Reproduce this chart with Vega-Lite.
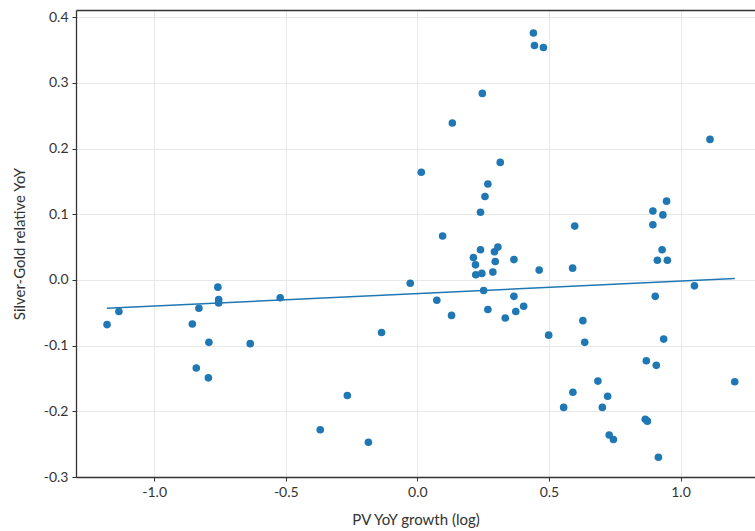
{
  "$schema": "https://vega.github.io/schema/vega-lite/v6.json",
  "width": 679,
  "height": 467,
  "autosize": {"type": "none"},
  "padding": {"left": 76, "top": 10, "right": 0, "bottom": 54},
  "background": "white",
  "config": {
    "view": {"stroke": null},
    "font": "Lato",
    "axis": {
      "labelFont": "Lato",
      "titleFont": "Lato",
      "labelFontSize": 14,
      "titleFontSize": 15,
      "titleFontWeight": "normal",
      "labelColor": "#333333",
      "titleColor": "#333333",
      "domainColor": "#333333",
      "domainWidth": 1.3,
      "tickColor": "#333333",
      "tickSize": 4,
      "gridColor": "#e8e8e8",
      "gridWidth": 1
    }
  },
  "data": {
    "values": [
      {"x": -1.179, "y": -0.068},
      {"x": -1.134, "y": -0.048},
      {"x": -0.855, "y": -0.067},
      {"x": -0.830, "y": -0.043},
      {"x": -0.840, "y": -0.134},
      {"x": -0.792, "y": -0.095},
      {"x": -0.794, "y": -0.149},
      {"x": -0.758, "y": -0.011},
      {"x": -0.755, "y": -0.030},
      {"x": -0.755, "y": -0.035},
      {"x": -0.521, "y": -0.027},
      {"x": -0.635, "y": -0.097},
      {"x": -0.369, "y": -0.228},
      {"x": -0.266, "y": -0.176},
      {"x": -0.186, "y": -0.247},
      {"x": -0.136, "y": -0.080},
      {"x": -0.027, "y": -0.005},
      {"x": 0.074, "y": -0.031},
      {"x": 0.130, "y": -0.054},
      {"x": 0.252, "y": -0.016},
      {"x": 0.268, "y": -0.045},
      {"x": 0.334, "y": -0.058},
      {"x": 0.367, "y": -0.025},
      {"x": 0.374, "y": -0.048},
      {"x": 0.404, "y": -0.040},
      {"x": 0.499, "y": -0.084},
      {"x": 0.629, "y": -0.062},
      {"x": 0.636, "y": -0.095},
      {"x": 0.463, "y": 0.015},
      {"x": 0.590, "y": 0.018},
      {"x": 0.287, "y": 0.012},
      {"x": 0.222, "y": 0.008},
      {"x": 0.245, "y": 0.010},
      {"x": 0.221, "y": 0.023},
      {"x": 0.904, "y": -0.025},
      {"x": 1.053, "y": -0.009},
      {"x": 0.936, "y": -0.090},
      {"x": 0.870, "y": -0.123},
      {"x": 0.908, "y": -0.130},
      {"x": 1.206, "y": -0.155},
      {"x": 0.686, "y": -0.154},
      {"x": 0.591, "y": -0.171},
      {"x": 0.723, "y": -0.177},
      {"x": 0.556, "y": -0.194},
      {"x": 0.703, "y": -0.194},
      {"x": 0.866, "y": -0.212},
      {"x": 0.874, "y": -0.215},
      {"x": 0.729, "y": -0.236},
      {"x": 0.745, "y": -0.243},
      {"x": 0.916, "y": -0.270},
      {"x": 0.441, "y": 0.376},
      {"x": 0.445, "y": 0.357},
      {"x": 0.479, "y": 0.354},
      {"x": 0.247, "y": 0.284},
      {"x": 0.133, "y": 0.239},
      {"x": 1.112, "y": 0.214},
      {"x": 0.315, "y": 0.179},
      {"x": 0.015, "y": 0.164},
      {"x": 0.268, "y": 0.146},
      {"x": 0.257, "y": 0.127},
      {"x": 0.240, "y": 0.103},
      {"x": 0.096, "y": 0.067},
      {"x": 0.947, "y": 0.120},
      {"x": 0.895, "y": 0.105},
      {"x": 0.933, "y": 0.099},
      {"x": 0.895, "y": 0.084},
      {"x": 0.598, "y": 0.082},
      {"x": 0.930, "y": 0.046},
      {"x": 0.912, "y": 0.030},
      {"x": 0.950, "y": 0.030},
      {"x": 0.240, "y": 0.046},
      {"x": 0.293, "y": 0.043},
      {"x": 0.306, "y": 0.050},
      {"x": 0.213, "y": 0.034},
      {"x": 0.296, "y": 0.028},
      {"x": 0.367, "y": 0.031}
    ]
  },
  "layer": [
    {
      "mark": {"type": "circle", "size": 58, "opacity": 1, "color": "#1f77b4"},
      "encoding": {
        "x": {
          "field": "x", "type": "quantitative",
          "scale": {"domain": [-1.297, 1.283], "nice": false, "zero": false},
          "axis": {"title": "PV YoY growth (log)", "values": [-1.0, -0.5, 0.0, 0.5, 1.0], "labelExpr": "replace(format(datum.value, '.1f'), '\u2212', '-')", "labelPadding": 4, "titlePadding": 13}
        },
        "y": {
          "field": "y", "type": "quantitative",
          "scale": {"domain": [-0.3, 0.411], "nice": false, "zero": false},
          "axis": {"title": "Silver-Gold relative YoY", "values": [-0.3, -0.2, -0.1, 0.0, 0.1, 0.2, 0.3, 0.4], "labelExpr": "replace(format(datum.value, '.1f'), '\u2212', '-')", "labelPadding": 4, "titlePadding": 16}
        }
      }
    },
    {
      "mark": {"type": "line", "color": "#1f77b4", "strokeWidth": 1.6},
      "transform": [{"regression": "y", "on": "x"}],
      "encoding": {
        "x": {"field": "x", "type": "quantitative", "axis": {"orient": "top", "labels": false, "ticks": false, "grid": false, "title": null}},
        "y": {"field": "y", "type": "quantitative"}
      }
    }
  ],
  "resolve": {"axis": {"x": "independent"}}
}
